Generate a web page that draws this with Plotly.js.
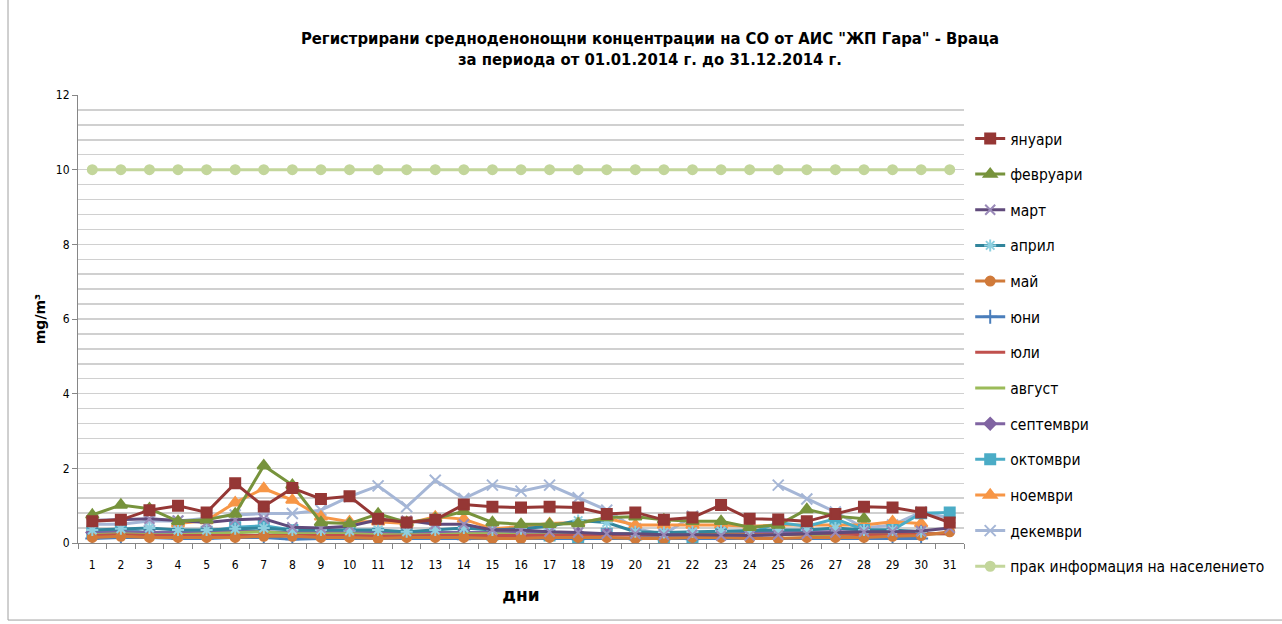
<!DOCTYPE html>
<html><head><meta charset="utf-8">
<script src="https://cdn.plot.ly/plotly-3.0.1.min.js"></script>
<style>html,body{margin:0;padding:0;background:#fff}#chart{width:1282px;height:624px}</style>
</head><body><div id="chart"></div>
<script>
const days = ["1","2","3","4","5","6","7","8","9","10","11","12","13","14","15","16","17","18","19","20","21","22","23","24","25","26","27","28","29","30","31"];
const seriesNames = ["януари","февруари","март","април","май","юни","юли","август","септември","октомври","ноември","декември","прак информация на населението"];
const january = [0.58,0.62,0.88,1.0,0.82,1.6,0.98,1.47,1.18,1.25,0.65,0.55,0.62,1.03,0.97,0.95,0.97,0.95,0.78,0.82,0.62,0.68,1.02,0.65,0.63,0.58,0.78,0.97,0.95,0.82,0.55];
const february = [0.75,1.02,0.92,0.58,0.62,0.78,2.07,1.55,0.55,0.52,0.78,0.55,0.65,0.85,0.55,0.5,0.5,0.52,0.68,0.7,0.62,0.58,0.58,0.42,0.48,0.9,0.72,0.65,null,null,null];
const march = [0.6,0.62,0.65,0.6,0.55,0.62,0.65,0.42,0.4,0.45,0.62,0.6,0.5,0.5,0.35,0.35,0.3,0.28,0.25,0.25,0.22,0.22,0.2,0.2,0.22,0.25,0.28,0.3,0.3,0.32,0.4];
const april = [0.35,0.38,0.4,0.35,0.35,0.38,0.4,0.35,0.35,0.33,0.35,0.3,0.35,0.4,0.35,0.38,0.45,0.6,0.55,0.3,0.28,0.3,0.32,0.35,0.35,0.35,0.4,0.35,0.35,0.3,null];
const may = [0.15,0.18,0.15,0.15,0.15,0.15,0.18,0.18,0.15,0.15,0.12,0.15,0.15,0.15,0.12,0.12,0.15,0.15,0.15,0.12,0.12,0.15,0.15,0.12,0.12,0.15,0.15,0.15,0.18,0.2,0.3];
const june = [0.12,0.15,0.15,0.12,0.12,0.15,0.15,0.1,0.12,0.12,0.12,0.12,0.12,0.1,0.12,0.12,0.12,0.1,0.12,0.1,0.1,0.1,0.12,0.12,0.12,0.12,0.12,0.12,0.12,0.12,null];
const july = [0.2,0.22,0.2,0.2,0.22,0.22,0.2,0.2,0.2,0.2,0.18,0.2,0.2,0.2,0.2,0.2,0.2,0.2,0.2,0.2,0.2,0.2,0.22,0.22,0.22,0.25,0.25,0.22,0.22,0.25,0.25];
const august = [0.22,0.25,0.22,0.22,0.25,0.28,0.3,0.25,0.25,0.25,0.22,0.22,0.22,0.25,0.25,0.22,0.22,0.22,0.22,0.25,0.25,0.25,0.25,0.22,0.22,0.22,0.22,0.25,0.25,0.25,0.25];
const september = [0.28,0.3,0.28,0.28,0.3,0.32,0.3,0.28,0.28,0.28,0.28,0.28,0.3,0.3,0.28,0.28,0.28,0.25,0.25,0.25,0.22,0.25,0.28,0.28,0.3,0.3,0.3,0.3,0.3,0.3,null];
const october = [0.3,0.37,0.27,0.25,0.3,0.42,0.46,0.35,0.3,0.27,0.25,0.25,0.25,0.3,0.22,0.25,0.2,0.15,0.25,0.22,0.15,0.15,0.25,0.25,0.55,0.45,0.65,0.35,0.35,0.8,0.82];
const november = [null,null,null,0.52,0.6,1.08,1.46,1.15,0.7,0.57,0.57,0.52,0.7,0.64,0.38,0.44,0.52,0.55,0.66,0.48,0.48,0.48,0.48,0.45,0.48,0.48,0.48,0.48,0.57,0.52,null];
const december = [0.5,0.5,0.59,0.59,0.66,0.75,0.79,0.79,0.88,1.24,1.53,0.97,1.68,1.19,1.55,1.39,1.55,1.21,0.88,0.39,0.23,0.72,null,null,1.55,1.18,0.83,0.4,0.48,0.83,0.67];
const threshold = [10,10,10,10,10,10,10,10,10,10,10,10,10,10,10,10,10,10,10,10,10,10,10,10,10,10,10,10,10,10,10];
const yTicks = [0,2,4,6,8,10,12];

const values = [january,february,march,april,may,june,july,august,september,october,november,december,threshold];
const styles = [
  {c:"#953735", s:"square", sz:10},
  {c:"#77933c", s:"triangle-up", sz:11},
  {c:"#604a7b", s:"x-thin-open", sz:10, mc:"#9a8ab8"},
  {c:"#31859c", s:"asterisk-open", sz:10, mc:"#8ed0e0"},
  {c:"#d07a3a", s:"circle", sz:9},
  {c:"#4a7ebb", s:"cross-thin-open", sz:10},
  {c:"#c0504d", s:null},
  {c:"#9bbb59", s:null},
  {c:"#8064a2", s:"diamond", sz:9},
  {c:"#4bacc6", s:"square", sz:10},
  {c:"#f79646", s:"triangle-up", sz:11},
  {c:"#a5b6d6", s:"x-thin-open", sz:11},
  {c:"#c3d69b", s:"circle", sz:9}
];
const order = [12,11,10,9,8,7,6,5,4,3,2,1,0];
const traces = [];
order.forEach(i => {
  const st = styles[i];
  const t = {
    type:"scatter", x:days, y:values[i], name:seriesNames[i],
    legendgroup:"g"+i, legendrank:i+1,
    mode: st.s ? "lines+markers" : "lines",
    line:{color:st.c, width:3},
    connectgaps:false
  };
  if (st.s) t.marker = {symbol:st.s, size:st.sz, color:st.mc||st.c, line:{color:st.mc||st.c, width:2}};
  traces.push(t);
});

const layout = {
  width:1282, height:624,
  paper_bgcolor:"#fff", plot_bgcolor:"#fff",
  margin:{l:78, r:318, t:95, b:81},
  font:{family:"'DejaVu Sans Condensed', sans-serif", color:"#000"},
  title:{text:"<b>Регистрирани средноденонощни концентрации на СО от АИС \"ЖП Гара\" - Враца<br>за периода от 01.01.2014 г. до 31.12.2014 г.</b>",
    font:{family:"'DejaVu Sans Condensed', sans-serif", size:16.5, color:"#000"},
    xref:"container", x:0.507, xanchor:"center", yref:"container", y:0.93, yanchor:"middle"},
  xaxis:{type:"category", tickson:"boundaries", ticks:"outside", ticklen:5, tickcolor:"#868686",
    showline:true, linecolor:"#868686", linewidth:1, showgrid:false, ticklabelstandoff:11,
    tickfont:{size:12, family:"'DejaVu Sans Condensed', sans-serif"},
    title:{text:"<b>дни</b>", font:{size:17, family:"'DejaVu Sans', sans-serif"}, standoff:17},
    range:[-0.5,30.5], fixedrange:true},
  yaxis:{range:[0,12], tickvals:yTicks, ticks:"outside", ticklen:5, tickcolor:"#868686",
    showline:true, linecolor:"#868686", linewidth:1,
    showgrid:true, gridcolor:"#d0d0d0", gridwidth:1.5,
    minor:{dtick:0.4, showgrid:true, gridcolor:"#d0d0d0", gridwidth:1.5, ticks:""},
    zeroline:false,
    tickfont:{size:12, family:"'DejaVu Sans Condensed', sans-serif"},
    title:{text:"<b>mg/m³</b>", font:{size:14, family:"'DejaVu Sans', sans-serif"}, standoff:6}},
  legend:{x:1.007, xanchor:"left", y:0.94, yanchor:"top", traceorder:"grouped", tracegroupgap:12.5,
    maxheight:560,
    font:{size:15.5, family:"'DejaVu Sans Condensed', sans-serif", color:"#000"},
    bgcolor:"rgba(0,0,0,0)", itemwidth:30},
  shapes:[{type:"rect", xref:"paper", yref:"paper", x0:-0.079, x1:1.5, y0:-0.172, y1:1.4,
    line:{color:"#a0a0a0", width:1}, fillcolor:"rgba(0,0,0,0)", layer:"below"}],
  showlegend:true
};
Plotly.newPlot("chart", traces, layout, {staticPlot:true, displayModeBar:false});
</script></body></html>
